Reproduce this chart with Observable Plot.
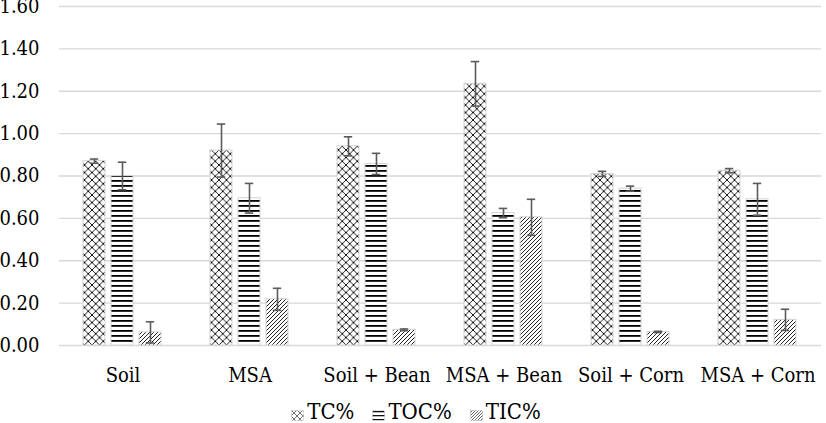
<!DOCTYPE html>
<html><head><meta charset="utf-8">
<script src="https://cdn.jsdelivr.net/npm/d3@7"></script>
<script src="https://cdn.jsdelivr.net/npm/@observablehq/plot@0.6"></script>
<style>
html,body{margin:0;padding:0;background:#fff;}
body{width:826px;height:423px;overflow:hidden;font-family:"DejaVu Serif Condensed","DejaVu Serif",serif;font-stretch:condensed;}
#chart svg text{font-family:"DejaVu Serif Condensed","DejaVu Serif",serif;font-stretch:condensed;}
#legend{height:31px;box-sizing:border-box;padding-top:8px;display:flex;justify-content:center;align-items:center;font-size:22px;line-height:22px;color:#000;padding-left:6px;}
#legend .item{display:flex;align-items:flex-end;margin:0 9px;}
#legend svg{margin-right:3px;margin-bottom:2px;}
</style></head><body>
<svg width="0" height="0" style="position:absolute">
  <defs>
    <pattern id="p-tc" patternUnits="userSpaceOnUse" width="7.5" height="7.5">
      <rect width="7.5" height="7.5" fill="#fff"/>
      <path d="M0,0L7.5,7.5M7.5,0L0,7.5" stroke="#000" stroke-width="0.9" fill="none"/>
    </pattern>
    <pattern id="p-toc" patternUnits="userSpaceOnUse" width="5" height="5">
      <rect width="5" height="5" fill="#fff"/>
      <rect y="0" width="5" height="1.8" fill="#000"/>
    </pattern>
    <pattern id="p-tic" patternUnits="userSpaceOnUse" width="4" height="4">
      <rect width="4" height="4" fill="#fff"/>
      <path d="M-1,1L1,-1M0,4L4,0M3,5L5,3" stroke="#222" stroke-width="1" fill="none"/>
    </pattern>
    <pattern id="p-tc-s" patternUnits="userSpaceOnUse" width="6" height="6">
      <rect width="6" height="6" fill="#fff"/>
      <path d="M0,0L6,6M6,0L0,6" stroke="#333" stroke-width="0.7" fill="none"/>
    </pattern>
    <pattern id="p-toc-s" patternUnits="userSpaceOnUse" width="4" height="4">
      <rect width="4" height="4" fill="#fff"/>
      <rect y="1" width="4" height="1.3" fill="#111"/>
    </pattern>
    <pattern id="p-tic-s" patternUnits="userSpaceOnUse" width="3" height="3">
      <rect width="3" height="3" fill="#fff"/>
      <path d="M-1,1L1,-1M0,3L3,0M2,4L4,2" stroke="#444" stroke-width="0.8" fill="none"/>
    </pattern>
  </defs>
</svg>
<div id="chart"></div>
<div id="legend"></div>
<script>
const categories = ["Soil", "MSA", "Soil + Bean", "MSA + Bean", "Soil + Corn", "MSA + Corn"];
const series = ["TC%", "TOC%", "TIC%"];
const tcValues  = [0.87, 0.92, 0.94, 1.235, 0.81, 0.825];
const tcErrors  = [0.01, 0.125, 0.045, 0.105, 0.012, 0.01];
const tocValues = [0.80, 0.695, 0.857, 0.625, 0.74, 0.69];
const tocErrors = [0.065, 0.07, 0.05, 0.022, 0.012, 0.075];
const ticValues = [0.062, 0.218, 0.074, 0.605, 0.064, 0.121];
const ticErrors = [0.05, 0.052, 0.004, 0.085, 0.003, 0.05];
const yTicks = [0, 0.2, 0.4, 0.6, 0.8, 1.0, 1.2, 1.4, 1.6];
const patternIds = ["url(#p-tc)", "url(#p-toc)", "url(#p-tic)"];
const swatchIds = ["url(#p-tc-s)", "url(#p-toc-s)", "url(#p-tic-s)"];

const valueSets = [tcValues, tocValues, ticValues];
const errorSets = [tcErrors, tocErrors, ticErrors];
const rows = [];
categories.forEach((c, i) => {
  series.forEach((s, j) => {
    rows.push({category: c, series: s, value: valueSets[j][i], err: errorSets[j][i]});
  });
});

const chart = Plot.plot({
  width: 826,
  height: 392,
  marginLeft: 57,
  marginRight: 4,
  marginTop: 6,
  marginBottom: 47,
  style: {fontSize: "20px", color: "#000", background: "#fff"},
  fx: {domain: categories, padding: 0, label: null, tickSize: 0, tickPadding: 22},
  x: {domain: series, axis: null, paddingInner: 0.213, paddingOuter: 0.835},
  y: {domain: [0, 1.6], ticks: yTicks, tickFormat: d => d.toFixed(2), label: null, tickSize: 0, tickPadding: 20},
  color: {type: "ordinal", domain: series, range: patternIds},
  marks: [
    Plot.ruleY(yTicks, {stroke: "#d6d9d9", strokeWidth: 1.4}),
    Plot.barY(rows, {fx: "category", x: "series", y: "value", fill: "series", stroke: "#d4d4d4", strokeWidth: 1}),
    Plot.ruleX(rows, {fx: "category", x: "series", y1: d => d.value - d.err, y2: d => d.value + d.err, stroke: "#5b5b5b", strokeWidth: 1.6}),
    Plot.tickY(rows, {fx: "category", x: "series", y: d => d.value + d.err, stroke: "#5b5b5b", strokeWidth: 1.6, insetLeft: 6.8, insetRight: 6.8}),
    Plot.tickY(rows, {fx: "category", x: "series", y: d => d.value - d.err, stroke: "#5b5b5b", strokeWidth: 1.6, insetLeft: 6.8, insetRight: 6.8})
  ]
});
document.getElementById("chart").appendChild(chart);

const legend = document.getElementById("legend");
series.forEach((s, j) => {
  const item = document.createElement("div");
  item.className = "item";
  item.innerHTML = `<svg width="13" height="11"><rect x="0.5" y="0.5" width="12" height="10" fill="${swatchIds[j]}" stroke="#bbb" stroke-width="0.8" stroke-dasharray="1.5,1"/></svg><span>${s}</span>`;
  legend.appendChild(item);
});
</script>
</body></html>
